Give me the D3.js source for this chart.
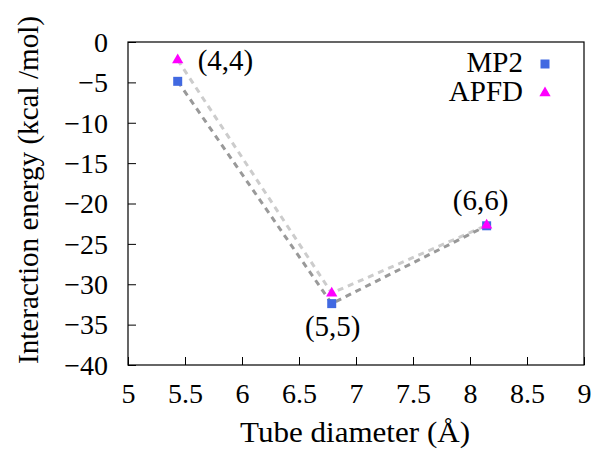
<!DOCTYPE html>
<html>
<head>
<meta charset="utf-8">
<script src="https://cdn.jsdelivr.net/npm/d3@7"></script>
<style>
  body { margin: 0; background: #fff; }
  text { font-family: "Liberation Serif", "DejaVu Serif", serif; fill: #000; }
</style>
</head>
<body>
<svg id="chart" width="593" height="450"></svg>
<script>
// данные
var tubes = ["(4,4)", "(5,5)", "(6,6)"];
var diameters = [5.436, 6.787, 8.146];
var mp2 = [-4.87, -32.4, -22.76];
var apfd = [-2.23, -31.1, -22.7];
var xTicks = [5, 5.5, 6, 6.5, 7, 7.5, 8, 8.5, 9];
var yTicks = [0, -5, -10, -15, -20, -25, -30, -35, -40];

var svg = d3.select("#chart");
var m = { left: 128, top: 42, right: 584, bottom: 365 };

var x = d3.scaleLinear().domain([5, 9]).range([m.left, m.right]);
var y = d3.scaleLinear().domain([-40, 0]).range([m.bottom, m.top]);

// рамка
svg.append("rect")
  .attr("x", m.left).attr("y", m.top)
  .attr("width", m.right - m.left).attr("height", m.bottom - m.top)
  .attr("fill", "none").attr("stroke", "#000").attr("stroke-width", 1.2);

// ось x
var gx = svg.append("g")
  .attr("transform", "translate(0," + m.bottom + ")")
  .call(d3.axisBottom(x).tickValues(xTicks).tickSize(-8).tickPadding(0)
    .tickFormat(d3.format("")));
gx.select(".domain").remove();
gx.selectAll("line").attr("stroke-width", 1);
gx.selectAll("text").style("font-size", "28px").attr("y", 38).attr("dy", null);

// ось y
var gy = svg.append("g")
  .attr("transform", "translate(" + m.left + ",0)")
  .call(d3.axisLeft(y).tickValues(yTicks).tickSize(-8).tickPadding(20));
gy.select(".domain").remove();
gy.selectAll("line").attr("stroke-width", 1);
gy.selectAll("text").style("font-size", "28px").attr("dy", "0.33em");

// подписи осей
svg.append("text")
  .attr("x", 355).attr("y", 442)
  .attr("text-anchor", "middle").style("font-size", "30px")
  .attr("textLength", 230).attr("lengthAdjust", "spacingAndGlyphs")
  .text("Tube diameter (Å)");
svg.append("text")
  .attr("transform", "translate(38,190) rotate(-90)")
  .attr("text-anchor", "middle").style("font-size", "30px")
  .attr("textLength", 348).attr("lengthAdjust", "spacingAndGlyphs")
  .text("Interaction energy (kcal /mol)");

// линии
var line = function(vals) {
  return d3.line().x(function(d, i) { return x(diameters[i]); })
    .y(function(d) { return y(d); })(vals);
};
svg.append("path").attr("d", line(apfd))
  .attr("fill", "none").attr("stroke", "#cccccc").attr("stroke-width", 3)
  .attr("stroke-dasharray", "6,5");
svg.append("path").attr("d", line(mp2))
  .attr("fill", "none").attr("stroke", "#999999").attr("stroke-width", 3)
  .attr("stroke-dasharray", "6,5");

// маркеры
var sq = d3.symbol().type(d3.symbolSquare).size(81);
var tri = d3.symbol().type(d3.symbolTriangle).size(55);
svg.selectAll(".mp2").data(mp2).enter().append("path")
  .attr("d", sq)
  .attr("transform", function(d, i) { return "translate(" + x(diameters[i]) + "," + y(d) + ")"; })
  .attr("fill", "#4169e1");
svg.selectAll(".apfd").data(apfd).enter().append("path")
  .attr("d", tri)
  .attr("transform", function(d, i) { return "translate(" + x(diameters[i]) + "," + y(d) + ")"; })
  .attr("fill", "#ff00ff");

// подписи трубок
var lbl = [[20, 10, "start"], [1, 32, "middle"], [-6, -16, "middle"]];
var lblY = [apfd[0], mp2[1], mp2[2]];
svg.selectAll(".lbl").data(tubes).enter().append("text")
  .attr("x", function(d, i) { return x(diameters[i]) + lbl[i][0]; })
  .attr("y", function(d, i) { return y(lblY[i]) + lbl[i][1]; })
  .attr("text-anchor", function(d, i) { return lbl[i][2]; })
  .style("font-size", "29px")
  .text(function(d) { return d; });

// легенда
var leg = [["MP2", sq, "#4169e1"], ["APFD", tri, "#ff00ff"]];
leg.forEach(function(e, i) {
  var ly = 64 + i * 29;
  svg.append("text").attr("x", 523).attr("y", ly + 8)
    .attr("text-anchor", "end").style("font-size", "29px").text(e[0]);
  svg.append("path").attr("d", e[1])
    .attr("transform", "translate(545," + ly + ")").attr("fill", e[2]);
});
</script>
</body>
</html>
